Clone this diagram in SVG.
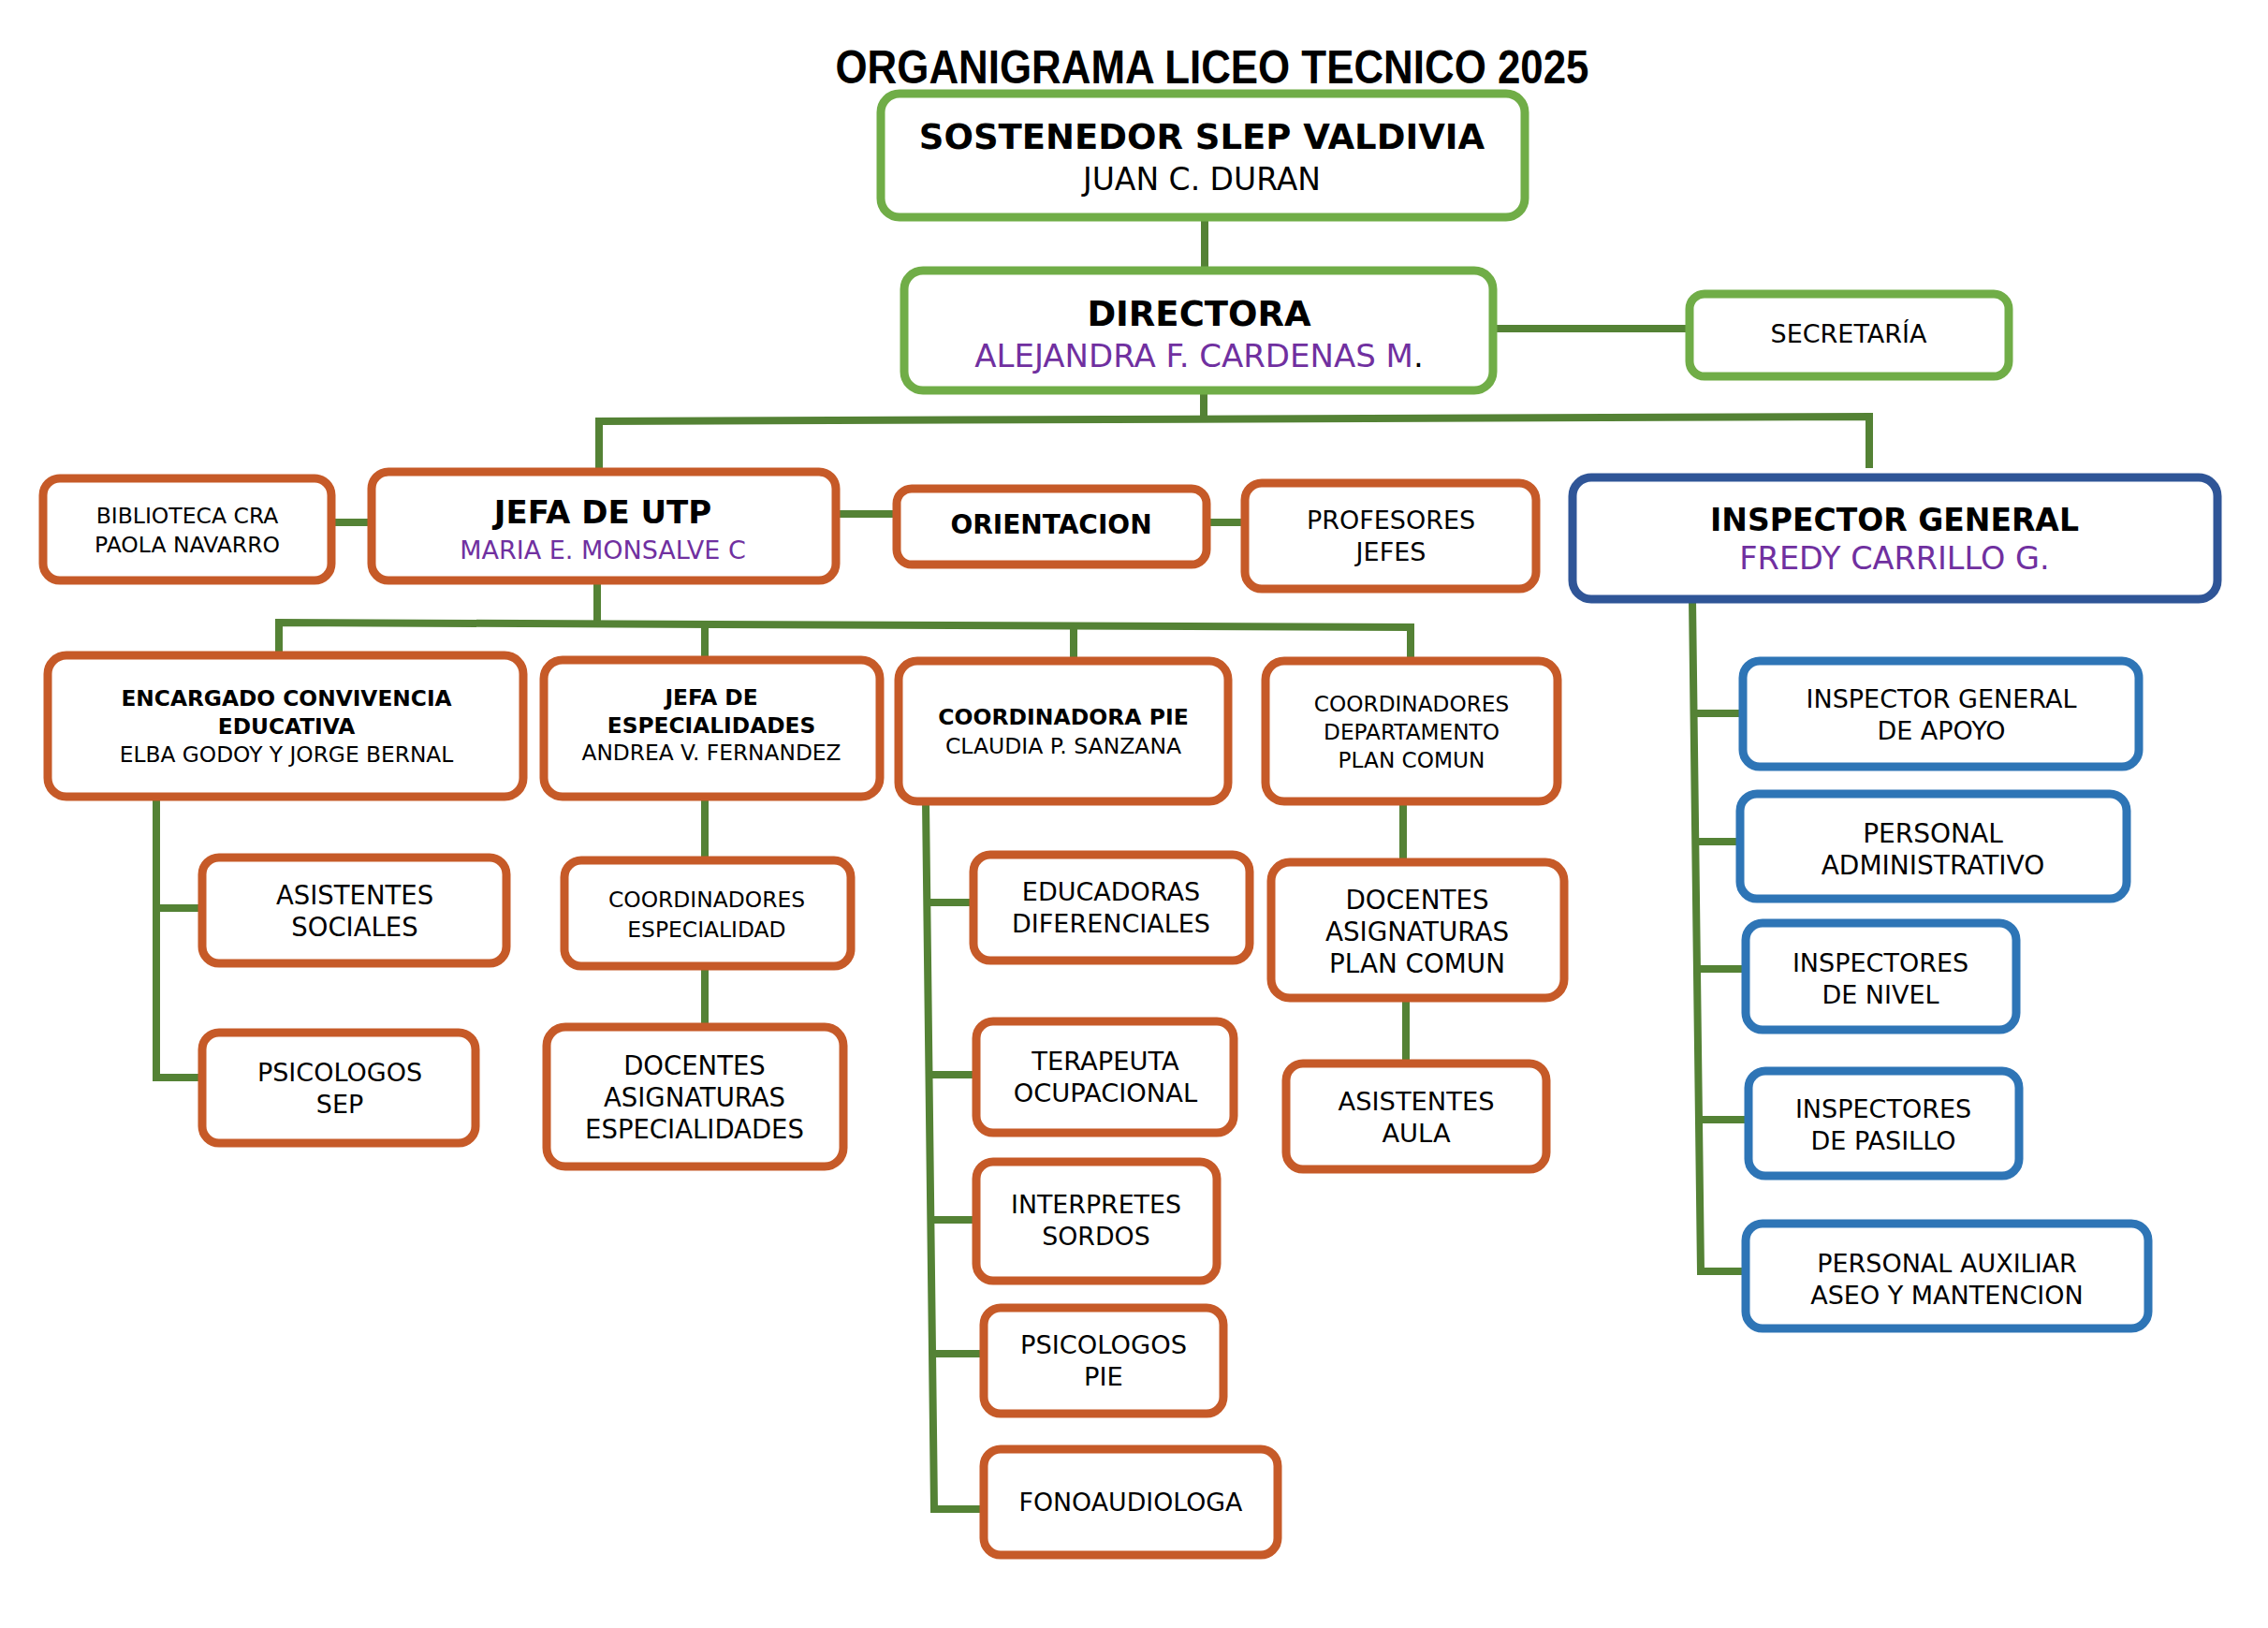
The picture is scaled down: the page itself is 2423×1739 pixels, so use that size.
<svg xmlns="http://www.w3.org/2000/svg" width="2423" height="1739" viewBox="0 0 2423 1739">
<style>
.bx{fill:#fff;stroke-width:9}
.g{stroke:#70AD47}
.o{stroke:#C65A28}
.b{stroke:#2F5597}
.lb{stroke:#2E75B6}
text{font-family:"DejaVu Sans","Verdana",sans-serif;fill:#000;text-anchor:middle}
.t{font-weight:bold}
.p{fill:#7030A0}
.c{stroke:#548235;stroke-width:8;fill:none;stroke-linecap:butt}
</style>
<rect width="2423" height="1739" fill="#fff"/>
<text x="1295" y="89" font-weight="bold" font-size="50" textLength="805" lengthAdjust="spacingAndGlyphs" style="font-family:'Liberation Sans',sans-serif">ORGANIGRAMA LICEO TECNICO 2025</text>

<g id="connectors">
<path class="c" d="M1287 232V289"/>
<path class="c" d="M1595 351H1805"/>
<path class="c" d="M1286 417V449"/>
<path class="c" d="M640 504V450L1997 445V500"/>
<path class="c" d="M354 558H397"/>
<path class="c" d="M893 549H958"/>
<path class="c" d="M1289 558H1330"/>
<path class="c" d="M638 620V666"/>
<path class="c" d="M298 700V665L1507 670V706"/>
<path class="c" d="M753 666V705"/>
<path class="c" d="M1147 667V706"/>
<path class="c" d="M167 851V1151H216"/>
<path class="c" d="M167 970H216"/>
<path class="c" d="M753 851V919"/>
<path class="c" d="M753 1032V1097"/>
<path class="c" d="M989 856L998 1612H1051"/>
<path class="c" d="M990 964H1040"/>
<path class="c" d="M991 1148H1043"/>
<path class="c" d="M996 1303H1043"/>
<path class="c" d="M997 1446H1051"/>
<path class="c" d="M1499 856V921"/>
<path class="c" d="M1502 1066V1136"/>
<path class="c" d="M1808 640L1817 1358H1865"/>
<path class="c" d="M1810 762H1862"/>
<path class="c" d="M1812 899H1859"/>
<path class="c" d="M1813 1035H1865"/>
<path class="c" d="M1815 1196H1868"/>
</g>

<g id="sostenedor"><rect class="bx g" x="941" y="100" width="688" height="132" rx="20"/>
<text class="t" x="1284" y="159" font-size="37">SOSTENEDOR SLEP VALDIVIA</text>
<text x="1284" y="203" font-size="33">JUAN C. DURAN</text></g>

<g id="directora"><rect class="bx g" x="966" y="289" width="629" height="128" rx="20"/>
<text class="t" x="1281" y="348" font-size="37">DIRECTORA</text>
<text x="1281" y="392" font-size="34"><tspan class="p">ALEJANDRA F. CARDENAS M</tspan>.</text></g>

<g id="secretaria"><rect class="bx g" x="1805" y="314" width="341" height="88" rx="16"/>
<text x="1975" y="366" font-size="27">SECRETARÍA</text></g>

<g id="jefa-utp"><rect class="bx o" x="397" y="504" width="496" height="116" rx="18"/>
<text class="t" x="644" y="559" font-size="34">JEFA DE UTP</text>
<text class="p" x="644" y="597" font-size="27">MARIA E. MONSALVE C</text></g>

<g id="biblioteca"><rect class="bx o" x="46" y="511" width="308" height="109" rx="18"/>
<text x="200" y="559" font-size="23.5">BIBLIOTECA CRA</text>
<text x="200" y="590" font-size="23.5">PAOLA NAVARRO</text></g>

<g id="orientacion"><rect class="bx o" x="958" y="522" width="331" height="81" rx="16"/>
<text class="t" x="1123" y="570" font-size="28">ORIENTACION</text></g>

<g id="profesores-jefes"><rect class="bx o" x="1330" y="516" width="311" height="113" rx="18"/>
<text x="1486" y="565" font-size="27">PROFESORES</text>
<text x="1486" y="599" font-size="27">JEFES</text></g>

<g id="inspector-general"><rect class="bx b" x="1680" y="510" width="689" height="130" rx="20"/>
<text class="t" x="2024" y="567" font-size="33">INSPECTOR GENERAL</text>
<text class="p" x="2024" y="608" font-size="33.5">FREDY CARRILLO G.</text></g>

<g id="insp-apoyo"><rect class="bx lb" x="1862" y="706" width="423" height="113" rx="18"/>
<text x="2074" y="756" font-size="27">INSPECTOR GENERAL</text>
<text x="2074" y="790" font-size="27">DE APOYO</text></g>

<g id="personal-administrativo"><rect class="bx lb" x="1859" y="848" width="413" height="112" rx="18"/>
<text x="2065" y="900" font-size="28">PERSONAL</text>
<text x="2065" y="934" font-size="28">ADMINISTRATIVO</text></g>

<g id="inspectores-nivel"><rect class="bx lb" x="1865" y="986" width="289" height="114" rx="18"/>
<text x="2009" y="1038" font-size="27">INSPECTORES</text>
<text x="2009" y="1072" font-size="27">DE NIVEL</text></g>

<g id="inspectores-pasillo"><rect class="bx lb" x="1868" y="1144" width="289" height="112" rx="18"/>
<text x="2012" y="1194" font-size="27">INSPECTORES</text>
<text x="2012" y="1228" font-size="27">DE PASILLO</text></g>

<g id="personal-auxiliar"><rect class="bx lb" x="1865" y="1307" width="430" height="112" rx="18"/>
<text x="2080" y="1359" font-size="27">PERSONAL AUXILIAR</text>
<text x="2080" y="1393" font-size="27">ASEO Y MANTENCION</text></g>

<g id="convivencia"><rect class="bx o" x="51" y="700" width="508" height="151" rx="20"/>
<text class="t" x="306" y="754" font-size="23.3">ENCARGADO CONVIVENCIA</text>
<text class="t" x="306" y="784" font-size="23.3">EDUCATIVA</text>
<text x="306" y="814" font-size="23.3">ELBA GODOY Y JORGE BERNAL</text></g>

<g id="jefa-especialidades"><rect class="bx o" x="581" y="705" width="359" height="146" rx="20"/>
<text class="t" x="760" y="753" font-size="23.3">JEFA DE</text>
<text class="t" x="760" y="783" font-size="23.3">ESPECIALIDADES</text>
<text x="760" y="812" font-size="23.3">ANDREA V. FERNANDEZ</text></g>

<g id="coordinadora-pie"><rect class="bx o" x="960" y="706" width="352" height="150" rx="20"/>
<text class="t" x="1136" y="774" font-size="23.5">COORDINADORA PIE</text>
<text x="1136" y="805" font-size="23.5">CLAUDIA P. SANZANA</text></g>

<g id="coordinadores-depto"><rect class="bx o" x="1352" y="706" width="312" height="150" rx="20"/>
<text x="1508" y="760" font-size="23.2">COORDINADORES</text>
<text x="1508" y="790" font-size="23.2">DEPARTAMENTO</text>
<text x="1508" y="820" font-size="23.2">PLAN COMUN</text></g>

<g id="asistentes-sociales"><rect class="bx o" x="216" y="916" width="325" height="113" rx="18"/>
<text x="379" y="966" font-size="27.5">ASISTENTES</text>
<text x="379" y="1000" font-size="27.5">SOCIALES</text></g>

<g id="psicologos-sep"><rect class="bx o" x="216" y="1103" width="292" height="118" rx="18"/>
<text x="363" y="1155" font-size="27">PSICOLOGOS</text>
<text x="363" y="1189" font-size="27">SEP</text></g>

<g id="coordinadores-especialidad"><rect class="bx o" x="603" y="919" width="306" height="113" rx="18"/>
<text x="755" y="969" font-size="23.4">COORDINADORES</text>
<text x="755" y="1001" font-size="23.4">ESPECIALIDAD</text></g>

<g id="docentes-especialidades"><rect class="bx o" x="584" y="1097" width="317" height="149" rx="20"/>
<text x="742" y="1148" font-size="27.5">DOCENTES</text>
<text x="742" y="1182" font-size="27.5">ASIGNATURAS</text>
<text x="742" y="1216" font-size="27.5">ESPECIALIDADES</text></g>

<g id="educadoras"><rect class="bx o" x="1040" y="913" width="295" height="113" rx="18"/>
<text x="1187" y="962" font-size="27">EDUCADORAS</text>
<text x="1187" y="996" font-size="27">DIFERENCIALES</text></g>

<g id="terapeuta"><rect class="bx o" x="1043" y="1091" width="275" height="119" rx="18"/>
<text x="1181" y="1143" font-size="27.3">TERAPEUTA</text>
<text x="1181" y="1177" font-size="27.3">OCUPACIONAL</text></g>

<g id="interpretes"><rect class="bx o" x="1043" y="1241" width="257" height="127" rx="18"/>
<text x="1171" y="1296" font-size="26.8">INTERPRETES</text>
<text x="1171" y="1330" font-size="26.8">SORDOS</text></g>

<g id="psicologos-pie"><rect class="bx o" x="1051" y="1397" width="256" height="113" rx="18"/>
<text x="1179" y="1446" font-size="27.3">PSICOLOGOS</text>
<text x="1179" y="1480" font-size="27.3">PIE</text></g>

<g id="fonoaudiologa"><rect class="bx o" x="1051" y="1548" width="314" height="113" rx="18"/>
<text x="1208" y="1614" font-size="26.8">FONOAUDIOLOGA</text></g>

<g id="docentes-plan-comun"><rect class="bx o" x="1358" y="921" width="313" height="145" rx="20"/>
<text x="1514" y="971" font-size="27.8">DOCENTES</text>
<text x="1514" y="1005" font-size="27.8">ASIGNATURAS</text>
<text x="1514" y="1039" font-size="27.8">PLAN COMUN</text></g>

<g id="asistentes-aula"><rect class="bx o" x="1374" y="1136" width="278" height="113" rx="18"/>
<text x="1513" y="1186" font-size="27.3">ASISTENTES</text>
<text x="1513" y="1220" font-size="27.3">AULA</text></g>
</svg>
